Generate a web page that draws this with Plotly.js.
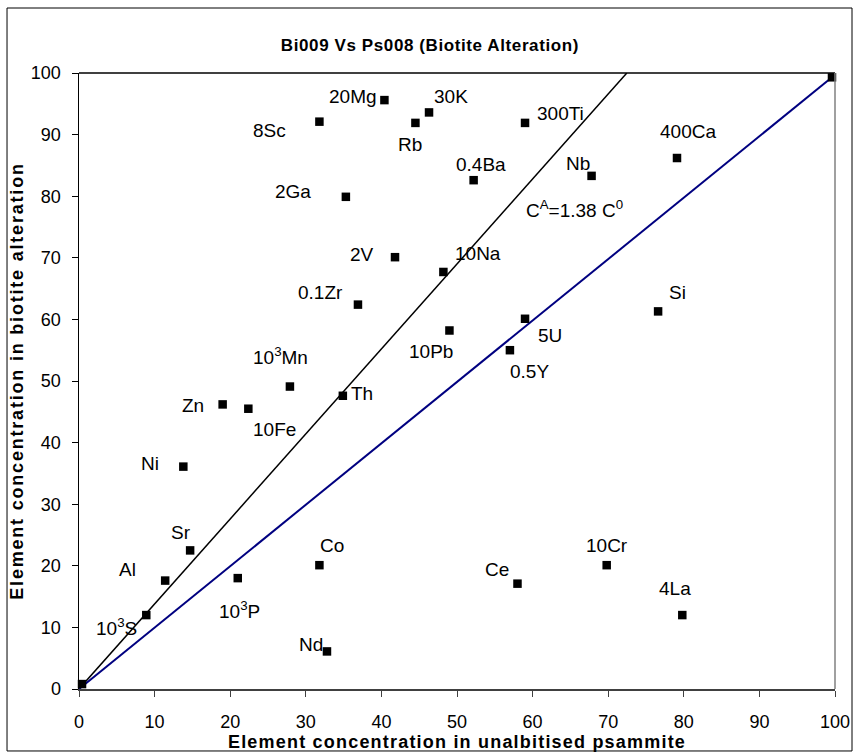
<!DOCTYPE html>
<html>
<head>
<meta charset="utf-8">
<script src="https://cdn.plot.ly/plotly-3.0.1.min.js"></script>
<style>
  html, body { margin: 0; padding: 0; background: #ffffff; }
  #chart { width: 853px; height: 752px; }
  #chart .xtitle { letter-spacing: 1.2px; }
  #chart .ytitle { letter-spacing: 1.8px; }
  #chart .gtitle { letter-spacing: 0.6px; }
</style>
</head>
<body>
<div id="chart"></div>
<script>
// ---- data ----
const labels = ["8Sc", "2Ga", "20Mg", "30K", "Rb", "300Ti", "0.4Ba", "Nb", "2V", "10Na",
  "400Ca", "Si", "0.1Zr", "10<sup>3</sup>Mn", "Zn", "10Fe", "Th", "Ni", "10Pb", "5U",
  "0.5Y", "Sr", "Al", "10<sup>3</sup>S", "10<sup>3</sup>P", "Co", "Nd", "Ce", "10Cr", "4La", "", ""];
const psammite = [31.8, 35.3, 40.4, 46.3, 44.5, 59.0, 52.2, 67.8, 41.8, 48.2,
  79.1, 76.6, 36.9, 27.9, 19.0, 22.4, 34.9, 13.8, 49.0, 59.0,
  57.0, 14.7, 11.4, 8.9, 21.0, 31.8, 32.8, 58.0, 69.8, 79.8, 0.4, 99.6];
const alteration = [92.1, 79.9, 95.6, 93.6, 91.9, 91.9, 82.6, 83.3, 70.1, 67.7,
  86.2, 61.3, 62.4, 49.1, 46.2, 45.5, 47.6, 36.1, 58.2, 60.1,
  55.0, 22.5, 17.6, 12.0, 18.0, 20.1, 6.1, 17.1, 20.1, 12.0, 0.8, 99.3];

// label offsets from their point (pixels; dx right, dy up)
const labelDx = [-50, -53, -31, 22, -5, 35, 7, -14, -33, 35,
  11, 19, -37, -9, -30, 26, 19, -33, -18, 25,
  20, -9, -38, -30, 2, 13, -16, -20, 0, -7, 0, 0];
const labelDy = [-9, 5, 4, 16, -22, 9, 16, 12, 3, 18,
  27, 19, 12, 31, -1, -21, 2, 3, -21, -17,
  -21, 18, 11, -12, -32, 20, 7, 14, 20, 27, 0, 0];

// regression line C^A = 1.38 C^0 and isocon line
const slopeRatio = 1.38;
const blackLineX = [0, 100 / slopeRatio];
const blackLineY = [0, 100];
const blueLineX = [0, 99.6];
const blueLineY = [0, 99.3];

const equationText = "C<sup>A</sup>=1.38 C<sup>0</sup>";
const equationPos = [65.6, 78.0];

const xTicks = [0, 10, 20, 30, 40, 50, 60, 70, 80, 90, 100];
const yTicks = [0, 10, 20, 30, 40, 50, 60, 70, 80, 90, 100];

const FONT = "Liberation Sans, Arial, sans-serif";

const traces = [
  {
    x: blackLineX, y: blackLineY, mode: "lines", type: "scatter",
    line: { color: "#000000", width: 1.5 }, hoverinfo: "skip", showlegend: false
  },
  {
    x: blueLineX, y: blueLineY, mode: "lines", type: "scatter",
    line: { color: "#000080", width: 2 }, hoverinfo: "skip", showlegend: false
  },
  {
    x: psammite, y: alteration, mode: "markers", type: "scatter",
    marker: { symbol: "square", size: 8.5, color: "#000000" },
    showlegend: false, cliponaxis: false
  }
];

const annotations = labels.map((t, i) => ({
  x: psammite[i], y: alteration[i], xref: "x", yref: "y",
  text: t, showarrow: false, xshift: labelDx[i], yshift: labelDy[i],
  xanchor: "center", yanchor: "middle",
  font: { family: FONT, size: 19, color: "#000000" }
})).filter(a => a.text !== "");

annotations.push({
  x: equationPos[0], y: equationPos[1], xref: "x", yref: "y",
  text: equationText, showarrow: false, xanchor: "center", yanchor: "middle",
  font: { family: FONT, size: 19, color: "#000000" }
});

const layout = {
  width: 853, height: 752,
  margin: { l: 79, r: 18, t: 73, b: 63 },
  paper_bgcolor: "#ffffff", plot_bgcolor: "#ffffff",
  font: { family: FONT, size: 18, color: "#000000" },
  title: {
    text: "<b>Bi009 Vs Ps008 (Biotite Alteration)</b>",
    font: { family: FONT, size: 17, color: "#000000" },
    xref: "container", yref: "container",
    x: 0.504, xanchor: "center", y: 0.94, yanchor: "middle"
  },
  xaxis: {
    range: [0, 100], tickvals: xTicks, ticks: "outside", ticklen: 6,
    tickcolor: "#404040", showline: true, linecolor: "#404040", linewidth: 1.5,
    showgrid: false, zeroline: false, tickfont: { family: FONT, size: 18 },
    ticklabelstandoff: 10,
    title: { text: "<b>Element concentration in unalbitised psammite</b>",
      font: { family: FONT, size: 18 }, standoff: 1 }
  },
  yaxis: {
    range: [0, 100], tickvals: yTicks, ticks: "outside", ticklen: 6,
    tickcolor: "#000000", showline: true, linecolor: "#000000", linewidth: 1.5,
    showgrid: false, zeroline: false, tickfont: { family: FONT, size: 18 },
    ticklabelstandoff: 7,
    title: { text: "<b>Element concentration in biotite alteration</b>",
      font: { family: FONT, size: 18 }, standoff: 2 }
  },
  shapes: [
    { type: "line", xref: "paper", yref: "paper", x0: 0, x1: 1, y0: 1, y1: 1,
      line: { color: "#000000", width: 1.5 } },
    { type: "line", xref: "paper", yref: "paper", x0: 1, x1: 1, y0: 0, y1: 1,
      line: { color: "#808080", width: 1.5 } },
    { type: "rect", xref: "paper", yref: "paper",
      x0: -0.0952, x1: 1.0225, y0: -0.1006, y1: 1.1055,
      line: { color: "#000000", width: 1 }, fillcolor: "rgba(0,0,0,0)", layer: "below" }
  ],
  annotations: annotations
};

Plotly.newPlot("chart", traces, layout, { displayModeBar: false, staticPlot: true });
</script>
</body>
</html>
